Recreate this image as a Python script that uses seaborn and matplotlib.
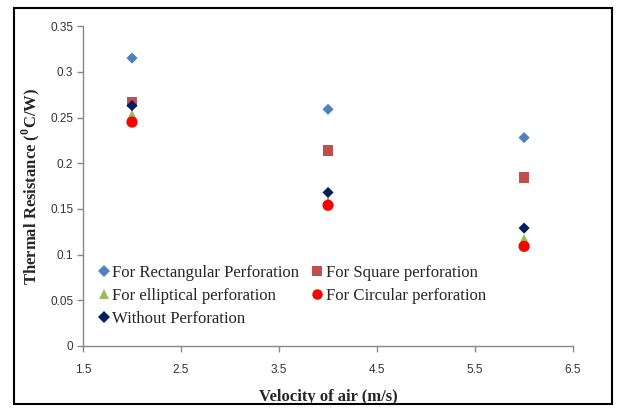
import matplotlib
matplotlib.use("Agg")
import matplotlib.pyplot as plt
import seaborn as sns
import pandas as pd
from matplotlib.patches import Rectangle

velocity = [2, 4, 6]
series_names = ["For Rectangular Perforation", "For Square perforation",
                "For elliptical perforation", "For Circular perforation",
                "Without Perforation"]
rectangular = [0.315, 0.259, 0.228]
square = [0.267, 0.214, 0.184]
elliptical = [0.253, 0.158, 0.117]
circular = [0.245, 0.154, 0.109]
without = [0.263, 0.168, 0.129]
x_ticks = [1.5, 2.5, 3.5, 4.5, 5.5, 6.5]
y_ticks = [0, 0.05, 0.1, 0.15, 0.2, 0.25, 0.3, 0.35]
y_tick_labels = ["0", "0.05", "0.1", "0.15", "0.2", "0.25", "0.3", "0.35"]

values = [rectangular, square, elliptical, circular, without]
rows = []
for name, vals in zip(series_names, values):
    for v, r in zip(velocity, vals):
        rows.append({"Velocity": v, "Resistance": r, "Series": name})
df = pd.DataFrame(rows)

colors = {series_names[0]: "#4F81BD", series_names[1]: "#C0504D",
          series_names[2]: "#9BBB59", series_names[3]: "#FF0000",
          series_names[4]: "#002060"}
markers = {series_names[0]: "D", series_names[1]: "s",
           series_names[2]: "^", series_names[3]: "o",
           series_names[4]: "D"}
sizes = {series_names[0]: 32, series_names[1]: 60,
         series_names[2]: 55, series_names[3]: 65,
         series_names[4]: 32}

sns.set_style("white")
plt.rcParams['font.family'] = ['Liberation Serif', 'DejaVu Serif']
plt.rcParams['mathtext.fontset'] = 'custom'
plt.rcParams['mathtext.rm'] = 'Liberation Serif:bold'
plt.rcParams['mathtext.bf'] = 'Liberation Serif:bold'

fig = plt.figure(figsize=(6.22, 4.08), dpi=100)
ax = fig.add_axes([0.1334, 0.152, 0.788, 0.784])

for name in series_names:
    sub = df[df["Series"] == name]
    sns.scatterplot(data=sub, x="Velocity", y="Resistance", ax=ax,
                    color=colors[name], marker=markers[name], s=sizes[name],
                    edgecolor="none", linewidth=0, label=name, legend=False)

ax.set_xlim(1.5, 6.5)
ax.set_ylim(0, 0.35)
ax.set_xticks(x_ticks)
ax.set_xticklabels([str(t) for t in x_ticks])
ax.set_yticks(y_ticks)
ax.set_yticklabels(y_tick_labels)
for lab in ax.get_xticklabels() + ax.get_yticklabels():
    lab.set_family(['Liberation Sans', 'DejaVu Sans'])
    lab.set_fontsize(8.5)
    lab.set_color("#333333")

sns.despine(ax=ax)
for sp in ["left", "bottom"]:
    ax.spines[sp].set_color("#888888")
    ax.spines[sp].set_linewidth(1.0)
ax.tick_params(axis="both", direction="out", length=4, width=1, color="#888888",
               left=True, bottom=True, pad=3)
ax.tick_params(axis="x", pad=9)

ax.set_xlabel("Velocity of air (m/s)", fontsize=12, fontweight="bold", labelpad=9)
ax.set_ylabel("Thermal Resistance ($^{0}$C/W)", fontsize=12, fontweight="bold", labelpad=6)

handles = {}
for name in series_names:
    handles[name] = plt.Line2D([], [], linestyle="none", marker=markers[name],
                               color=colors[name], markersize=(6 if markers[name] == "D" else 7.5),
                               markeredgewidth=0)
order = [series_names[0], series_names[2], series_names[4], series_names[1], series_names[3]]
ax.legend([handles[n] for n in order], order, ncol=2, loc="upper left",
          bbox_to_anchor=(0.018, 0.275), frameon=False, fontsize=12.1,
          handlelength=0.6, handletextpad=0.2, columnspacing=0.8,
          labelspacing=0.42, borderaxespad=0)

fig.patches.append(Rectangle((14 / 622, 4 / 408), 598 / 622, 396 / 408,
                             transform=fig.transFigure, fill=False,
                             edgecolor="black", linewidth=1.5))

fig.savefig("out.png", dpi=100)
